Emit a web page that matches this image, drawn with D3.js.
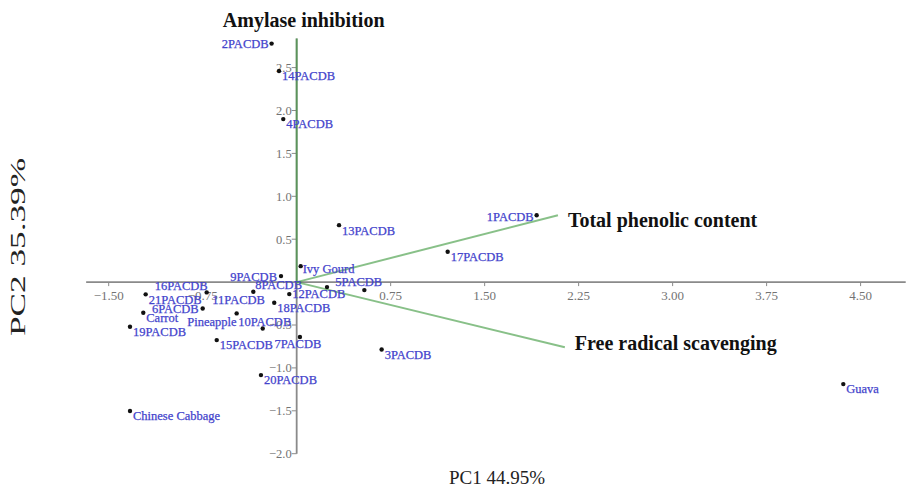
<!DOCTYPE html>
<html>
<head>
<meta charset="utf-8">
<script src="https://cdn.jsdelivr.net/npm/d3@7"></script>
<style>
  html, body { margin: 0; padding: 0; background: #fff; }
  svg { display: block; font-family: "Liberation Serif", "Times New Roman", serif; }
</style>
</head>
<body>
<div id="chart"></div>
<script>
// sample scores (PC1, PC2)
const sampleNames = ['1PACDB', '2PACDB', '3PACDB', '4PACDB', '5PACDB', '6PACDB', '7PACDB',
  '8PACDB', '9PACDB', '10PACDB', '11PACDB', '12PACDB', '13PACDB', '14PACDB', '15PACDB',
  '16PACDB', '17PACDB', '18PACDB', '19PACDB', '20PACDB', '21PACDB',
  'Carrot', 'Pineapple', 'Ivy Gourd', 'Chinese Cabbage', 'Guava'];
const pc1Scores = [1.915, -0.20, 0.678, -0.107, 0.54, -0.75, 0.026,
  0.242, -0.125, -0.271, -0.346, -0.059, 0.338, -0.141, -0.638,
  -0.718, 1.205, -0.179, -1.33, -0.285, -1.205,
  -1.224, -0.479, 0.032, -1.33, 4.362];
const pc2Scores = [0.78, 2.78, -0.785, 1.90, -0.093, -0.307, -0.64,
  -0.058, 0.07, -0.54, -0.113, -0.14, 0.664, 2.46, -0.676,
  -0.12, 0.353, -0.241, -0.521, -1.084, -0.143,
  -0.358, -0.365, 0.186, -1.503, -1.189];

// variable loadings
const loadingNames = ['Amylase inhibition', 'Total phenolic content', 'Free radical scavenging'];
const loadingPC1 = [0.0, 2.085, 2.14];
const loadingPC2 = [2.84, 0.78, -0.76];

const xTickValues = [-1.5, -0.75, 0.75, 1.5, 2.25, 3.0, 3.75, 4.5];
const yTickValues = [-2.0, -1.5, -1.0, -0.5, 0.5, 1.0, 1.5, 2.0, 2.5];
const xAxisTitle = 'PC1 44.95%';
const yAxisTitle = 'PC2 35.39%';

// label placement: [dx, dy, anchor] relative to the point
const labelPlace = {
  '1PACDB': [-3, 1, 'end'],
  '2PACDB': [-3, 0, 'end'],
  '5PACDB': [-29, -8, 'start'],
  '6PACDB': [-4, 0, 'end'],
  '7PACDB': [-2, 7, 'middle'],
  '8PACDB': [-25, -2, 'end'],
  '9PACDB': [-4, 1, 'end'],
  '10PACDB': [2, -7, 'middle'],
  '11PACDB': [-41, 8, 'start'],
  '12PACDB': [3, 0, 'start'],
  '16PACDB': [1, -7, 'end'],
  'Pineapple': [0, 8, 'end'],
  'Ivy Gourd': [2, 2, 'start']
};
const loadingLabelPlace = [[7, -11, 'middle'], [10, 12, 'start'], [10, 3, 'start']];

const width = 914, height = 487;

const svg = d3.select('#chart').append('svg')
  .attr('width', width)
  .attr('height', height);

const x = d3.scaleLinear().domain([-1.5, 4.5]).range([108.7, 860.6]);
const y = d3.scaleLinear().domain([-2, 2.5]).range([453.7, 67.6]);

const x0 = x(0), y0 = y(0);
const axisColor = '#8a8a8a';
const tickColor = '#737373';

// axis lines through the origin
svg.append('line')
  .attr('x1', x(-1.68)).attr('x2', x(4.86))
  .attr('y1', y0).attr('y2', y0)
  .attr('stroke', axisColor).attr('stroke-width', 1.8);
svg.append('line')
  .attr('x1', x0).attr('x2', x0)
  .attr('y1', y(-2.0)).attr('y2', y(2.84))
  .attr('stroke', axisColor).attr('stroke-width', 1.8);

// x ticks
const xt = svg.append('g');
xt.selectAll('line').data(xTickValues).join('line')
  .attr('x1', d => x(d)).attr('x2', d => x(d))
  .attr('y1', y0).attr('y2', y0 + 4)
  .attr('stroke', axisColor).attr('stroke-width', 1);
xt.selectAll('text').data(xTickValues).join('text')
  .attr('x', d => x(d)).attr('y', y0 + 18)
  .attr('text-anchor', 'middle')
  .attr('font-size', 13)
  .attr('fill', tickColor)
  .text(d => d3.format('.2f')(d));

// y ticks
const yt = svg.append('g');
yt.selectAll('line').data(yTickValues).join('line')
  .attr('x1', x0 - 5).attr('x2', x0)
  .attr('y1', d => y(d)).attr('y2', d => y(d))
  .attr('stroke', axisColor).attr('stroke-width', 1);
yt.selectAll('text').data(yTickValues).join('text')
  .attr('x', x0 - 5).attr('y', d => y(d))
  .attr('dy', '0.35em')
  .attr('text-anchor', 'end')
  .attr('font-size', 12.5)
  .attr('fill', tickColor)
  .text(d => d3.format('.1f')(d));

// loading vectors (semi transparent so the one on the axis reads darker)
const loadings = loadingNames.map((name, i) => ({ name, pc1: loadingPC1[i], pc2: loadingPC2[i], place: loadingLabelPlace[i] }));
svg.append('g').selectAll('line').data(loadings).join('line')
  .attr('x1', x0).attr('y1', y0)
  .attr('x2', d => x(d.pc1)).attr('y2', d => y(d.pc2))
  .attr('stroke', '#3f993f')
  .attr('stroke-opacity', 0.62)
  .attr('stroke-width', 2);
svg.append('g').selectAll('text').data(loadings).join('text')
  .attr('x', d => x(d.pc1) + d.place[0])
  .attr('y', d => y(d.pc2) + d.place[1])
  .attr('text-anchor', d => d.place[2])
  .attr('font-size', 20)
  .attr('font-weight', 'bold')
  .attr('fill', '#111')
  .text(d => d.name);

// sample points
const samples = sampleNames.map((name, i) => ({ name, pc1: pc1Scores[i], pc2: pc2Scores[i] }));
svg.append('g').selectAll('circle').data(samples).join('circle')
  .attr('cx', d => x(d.pc1)).attr('cy', d => y(d.pc2))
  .attr('r', 2.2)
  .attr('fill', '#111');
svg.append('g').selectAll('text').data(samples).join('text')
  .attr('x', d => x(d.pc1) + (labelPlace[d.name] || [3, 5, 'start'])[0])
  .attr('y', d => y(d.pc2) + (labelPlace[d.name] || [3, 5, 'start'])[1])
  .attr('dy', '0.35em')
  .attr('text-anchor', d => (labelPlace[d.name] || [3, 5, 'start'])[2])
  .attr('font-size', 12.5)
  .attr('fill', '#4343cc')
  .attr('stroke', '#4343cc')
  .attr('stroke-width', 0.25)
  .text(d => d.name);

// axis titles
svg.append('text')
  .attr('x', 497).attr('y', 484)
  .attr('text-anchor', 'middle')
  .attr('font-size', 19)
  .attr('fill', '#222')
  .text(xAxisTitle);
svg.append('text')
  .attr('transform', 'translate(25,247) rotate(-90)')
  .attr('text-anchor', 'middle')
  .attr('font-size', 20)
  .attr('textLength', 178)
  .attr('lengthAdjust', 'spacingAndGlyphs')
  .attr('fill', '#222')
  .text(yAxisTitle);
</script>
</body>
</html>
